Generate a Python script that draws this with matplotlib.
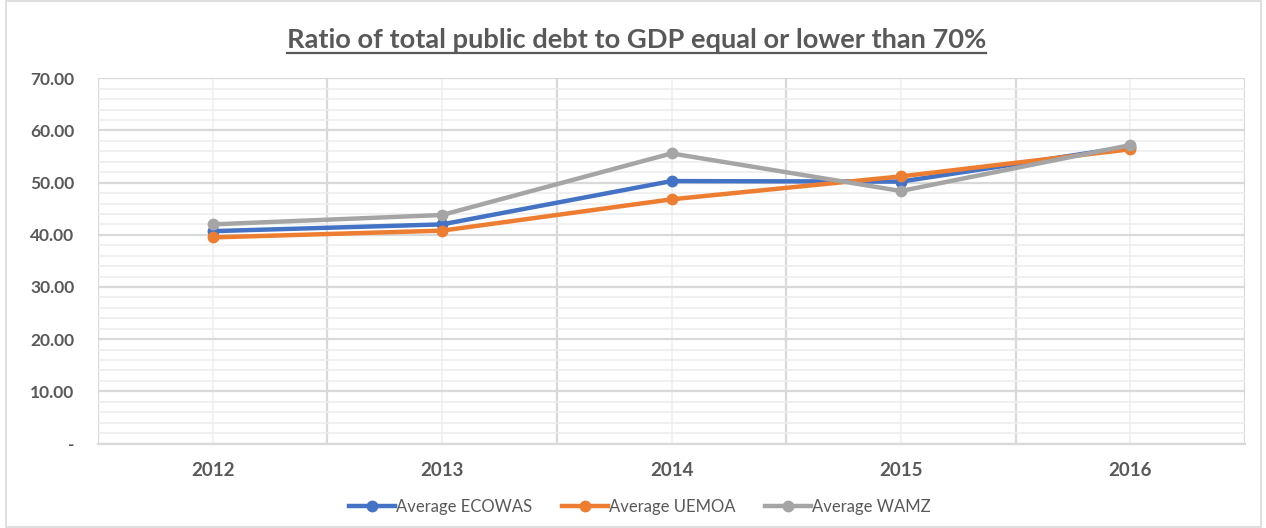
import matplotlib.pyplot as plt
from matplotlib.lines import Line2D
from matplotlib.patches import Rectangle
from matplotlib.ticker import MultipleLocator, FixedLocator, FuncFormatter

years = ['2012', '2013', '2014', '2015', '2016']
ecowas = [40.7, 42.0, 50.3, 50.2, 56.9]
uemoa = [39.5, 40.8, 46.8, 51.2, 56.4]
wamz = [42.0, 43.8, 55.6, 48.4, 57.2]

series = [
    ('Average ECOWAS', ecowas, '#4472C4'),
    ('Average UEMOA', uemoa, '#ED7D31'),
    ('Average WAMZ', wamz, '#A5A5A5'),
]

plt.rcParams['font.family'] = ['Lato', 'DejaVu Sans']
txt = '#595959'

fig = plt.figure(figsize=(12.66, 5.28), dpi=100)
ax = fig.add_axes([98 / 1266, 1 - 443.5 / 528, (1245 - 98) / 1266, (443.5 - 78.3) / 528])

# chart border
fig.patches.append(Rectangle((6 / 1266, 1 / 528), 1255 / 1266, 526 / 528,
                             transform=fig.transFigure, fill=False,
                             edgecolor='#D9D9D9', lw=1.2))

x = list(range(len(years)))
for name, vals, col in series:
    ax.plot(x, vals, color=col, lw=3.2, marker='o', ms=7.5, label=name, zorder=3)

ax.set_xlim(-0.5, len(years) - 0.5)
ax.set_ylim(0, 70)
ax.yaxis.set_major_locator(MultipleLocator(10))
ax.yaxis.set_minor_locator(MultipleLocator(2))
ax.yaxis.set_major_formatter(FuncFormatter(lambda v, p: '-' if abs(v) < 1e-9 else f'{v:.2f}'))
ax.xaxis.set_major_locator(FixedLocator(x))
ax.xaxis.set_minor_locator(FixedLocator([i - 0.5 for i in range(len(years) + 1)]))
ax.set_xticklabels(years)

ax.tick_params(axis='both', which='both', length=0)
ax.tick_params(axis='y', pad=17, labelsize=12.5, labelcolor=txt)
ax.tick_params(axis='x', pad=13, labelsize=13.5, labelcolor=txt)
for lab in ax.get_xticklabels() + ax.get_yticklabels():
    lab.set_fontweight('bold')

# horizontal grid: major every 10, minor every 2
ax.grid(True, axis='y', which='major', color='#D9D9D9', lw=1.6)
ax.grid(True, axis='y', which='minor', color='#EDEDED', lw=1.2)
# vertical grid: category boundaries darker, category centres light
ax.grid(True, axis='x', which='minor', color='#D9D9D9', lw=1.6)
ax.grid(True, axis='x', which='major', color='#F0F0F0', lw=1.2)
ax.set_axisbelow(True)
for s in ['top', 'right', 'left']:
    ax.spines[s].set_visible(False)
ax.spines['bottom'].set_color('#D9D9D9')
ax.spines['bottom'].set_linewidth(1.6)

leg = fig.legend(loc='center', bbox_to_anchor=(0.5055, 1 - 507 / 528), ncol=3,
                 frameon=False, fontsize=12, handlelength=2.76, handletextpad=0.05,
                 columnspacing=1.8)
for t in leg.get_texts():
    t.set_color(txt)

title = fig.text(0.503, 1 - 40 / 528, 'Ratio of total public debt to GDP equal or lower than 70%',
                 ha='center', va='center', fontsize=19.6, fontweight='bold', color=txt)
fig.canvas.draw()
bb = title.get_window_extent().transformed(fig.transFigure.inverted())
fig.add_artist(Line2D([bb.x0, bb.x1], [bb.y0 - 0.002, bb.y0 - 0.002],
                      transform=fig.transFigure, color=txt, lw=1.6))

fig.savefig('out.png', dpi=100)
